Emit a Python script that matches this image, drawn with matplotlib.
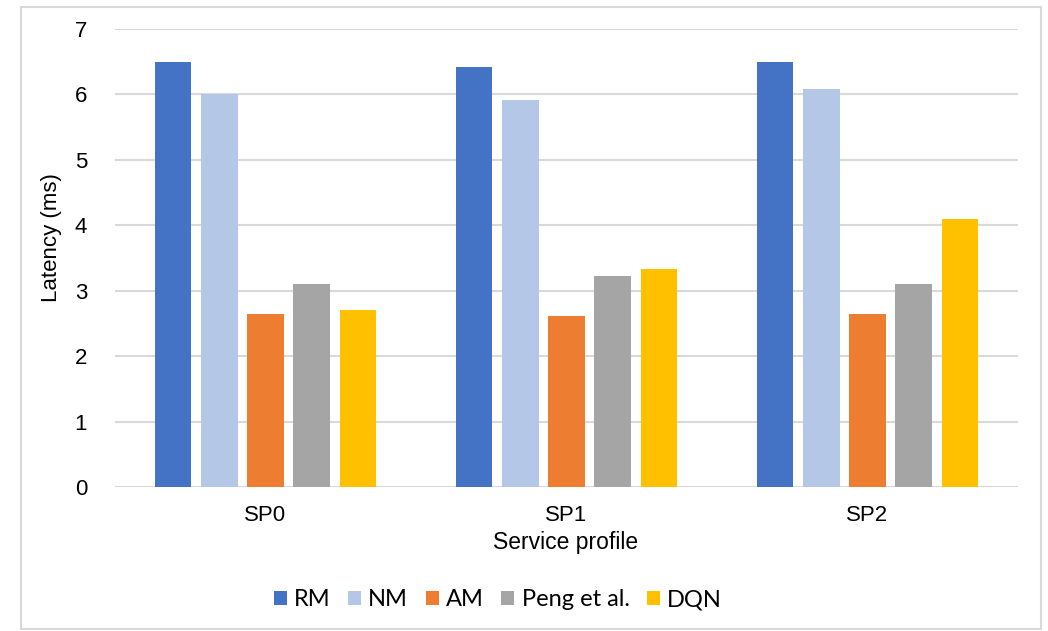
import numpy as np
import matplotlib.pyplot as plt
from matplotlib.patches import Rectangle

plt.rcParams['font.family'] = ['Liberation Sans', 'DejaVu Sans']

profiles = ['SP0', 'SP1', 'SP2']
methods = ['RM', 'NM', 'AM', 'Peng et al.', 'DQN']
colors = ['#4472C4', '#B4C7E7', '#ED7D31', '#A5A5A5', '#FFC000']

rm = [6.49, 6.42, 6.50]
nm = [6.00, 5.92, 6.08]
am = [2.64, 2.62, 2.65]
peng = [3.11, 3.22, 3.11]
dqn = [2.70, 3.33, 4.10]
series = [rm, nm, am, peng, dqn]

W, H = 1048, 631
fig = plt.figure(figsize=(W / 100, H / 100), dpi=100)
ax = fig.add_axes([115 / W, 1 - 487 / H, (1018 - 115) / W, (487 - 29) / H])

x = np.arange(len(profiles))
slot = 0.153
bw = 0.12
for i, (vals, c, name) in enumerate(zip(series, colors, methods)):
    ax.bar(x + (i - 2) * slot, vals, bw, color=c, label=name, zorder=3)

ax.set_xlim(-0.5, 2.5)
ax.set_ylim(0, 7)
ax.set_yticks(range(8))
ax.set_xticks(x)
ax.set_xticklabels(profiles)
ax.yaxis.grid(True, color='#D9D9D9', linewidth=1.5, zorder=0)
ax.set_axisbelow(True)
for s in ax.spines.values():
    s.set_visible(False)
ax.tick_params(axis='both', length=0, labelsize=16, colors='black')
ax.tick_params(axis='y', pad=20)
ax.tick_params(axis='x', pad=13)

fig.text(51 / W, 1 - 238 / H, 'Latency (ms)', rotation=90, ha='center', va='center', fontsize=16)
fig.text(566 / W, 1 - 543 / H, 'Service profile', ha='center', va='center', fontsize=16.5)

fig.legend(loc='center', bbox_to_anchor=(498 / W, 1 - 600 / H), ncol=5, frameon=False,
           prop={'family': ['Lato', 'DejaVu Sans'], 'size': 17},
           handlelength=0.55, handleheight=0.55, handletextpad=0.3, columnspacing=0.75)

# chart border
fig.patches.append(Rectangle((21 / W, 1 - 629 / H), (1041 - 21) / W, (629 - 7) / H,
                             transform=fig.transFigure, fill=False, edgecolor='#D9D9D9', linewidth=1.5))

fig.savefig('out.png', dpi=100)
